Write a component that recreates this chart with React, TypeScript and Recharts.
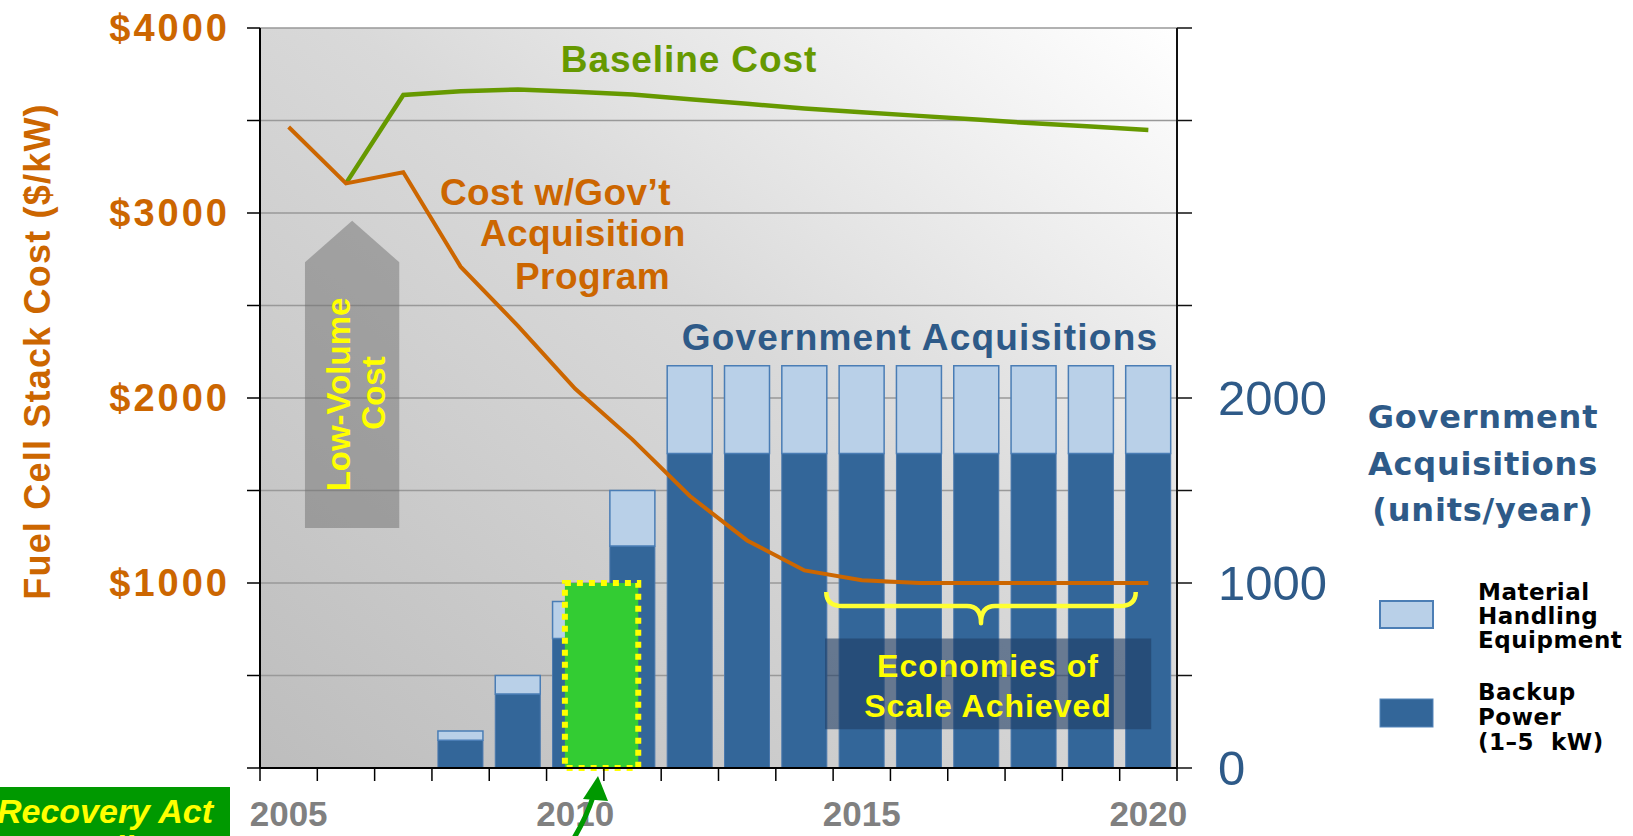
import React from 'react';
import { ComposedChart, Bar, Line, XAxis, YAxis, CartesianGrid, ReferenceArea } from 'recharts';

// ---------- data ----------
const years = [2005, 2006, 2007, 2008, 2009, 2010, 2011, 2012, 2013, 2014, 2015, 2016, 2017, 2018, 2019, 2020];
const costWithGovProgram = [3465, 3160, 3220, 2710, 2390, 2050, 1775, 1470, 1230, 1068, 1015, 1000, 1000, 1000, 1000, 1000];
const baselineCost = [null, 3160, 3638, 3658, 3668, 3655, 3640, 3615, 3590, 3565, 3545, 3525, 3505, 3485, 3467, 3449];
const backupPower = [null, null, null, 150, 400, 700, 1200, 1700, 1700, 1700, 1700, 1700, 1700, 1700, 1700, 1700];
const materialHandling = [null, null, null, 50, 100, 200, 300, 475, 475, 475, 475, 475, 475, 475, 475, 475];

const valueTicks = [0, 500, 1000, 1500, 2000, 2500, 3000, 3500, 4000];
const yearBoundaryTicks = [2004.5, 2005.5, 2006.5, 2007.5, 2008.5, 2009.5, 2010.5, 2011.5, 2012.5, 2013.5, 2014.5, 2015.5, 2016.5, 2017.5, 2018.5, 2019.5, 2020.5];
const yearLabelTicks = [2005, 2010, 2015, 2020];

const data = years.map((year, i) => ({
  year,
  cost: costWithGovProgram[i],
  baseline: baselineCost[i],
  backup: backupPower[i],
  mhe: materialHandling[i],
}));

const xTicks = [...yearBoundaryTicks, ...yearLabelTicks].sort((a, b) => a - b);

// ---------- styles ----------
const ARIAL = '"Liberation Sans", Arial, Helvetica, sans-serif';
const VERD = '"DejaVu Sans", Verdana, sans-serif';
const ORANGE = '#CC6600';
const GREEN = '#669900';
const STEEL = '#2E5A88';
const DARK_BLUE = '#336699';
const LIGHT_BLUE = '#B9D0E8';

const XTick = (props: any) => {
  const { x, y, payload } = props;
  const v = Number(payload.value);
  if (yearLabelTicks.includes(v)) {
    return (
      <text x={x} y={y + 58} textAnchor="middle" fill="#808080" fontSize={35} fontWeight="bold" fontFamily={ARIAL}>
        {v}
      </text>
    );
  }
  return <line x1={x} y1={y} x2={x} y2={y + 13} stroke="#000" strokeWidth={1.5} />;
};

const ArrowShape = (p: any) => {
  const { x, y, width, height } = p;
  const sh = width * 0.44;
  return (
    <path
      d={`M${x},${y + sh} L${x + width / 2},${y} L${x + width},${y + sh} L${x + width},${y + height} L${x},${y + height} Z`}
      fill="#707070"
      fillOpacity={0.5}
    />
  );
};

const BraceShape = (p: any) => {
  const { x, y, width, height } = p;
  const x0 = x;
  const x1 = x + width;
  const xc = x + width / 2;
  const yT = y;
  const yM = y + height * 0.45;
  const yB = y + height;
  const d = `M${x0},${yT} Q${x0},${yM} ${x0 + 16},${yM} L${xc - 14},${yM} Q${xc},${yM} ${xc},${yB} Q${xc},${yM} ${xc + 14},${yM} L${x1 - 16},${yM} Q${x1},${yM} ${x1},${yT}`;
  return <path d={d} fill="none" stroke="#FFFF33" strokeWidth={4.5} strokeLinejoin="round" />;
};

export default function App() {
  return (
    <div style={{ position: 'absolute', left: 0, top: 0, width: 1633, height: 836, background: '#fff', overflow: 'hidden' }}>
      <ComposedChart width={1633} height={836} data={data} margin={{ top: 28, right: 256, bottom: 8, left: 60 }}>
        <defs>
          <linearGradient id="plotBg" x1="0" y1="1" x2="1" y2="0">
            <stop offset="0%" stopColor="#BDBDBD" />
            <stop offset="55%" stopColor="#D9D9D9" />
            <stop offset="100%" stopColor="#FFFFFF" />
          </linearGradient>
        </defs>
        <CartesianGrid yAxisId="cost" vertical={false} stroke="#999999" strokeWidth={1.5} fill="url(#plotBg)" fillOpacity={1} />
        <XAxis
          dataKey="year"
          type="number"
          domain={[2004.5, 2020.5]}
          allowDataOverflow
          ticks={xTicks}
          interval={0}
          tickSize={0}
          tickMargin={0}
          tickLine={false}
          tick={<XTick />}
          height={60}
          axisLine={{ stroke: '#000', strokeWidth: 2 }}
        />
        <YAxis
          yAxisId="cost"
          domain={[0, 4000]}
          ticks={valueTicks}
          interval={0}
          width={200}
          tickSize={13}
          tickMargin={17}
          tickFormatter={(v: number) => (v > 0 && v % 1000 === 0 ? `$${v}` : '')}
          tick={{ fill: ORANGE, fontSize: 38, fontWeight: 'bold', fontFamily: ARIAL, letterSpacing: 3 }}
          axisLine={{ stroke: '#000', strokeWidth: 2 }}
          tickLine={{ stroke: '#000', strokeWidth: 1.5 }}
        />
        <YAxis
          yAxisId="units"
          orientation="right"
          domain={[0, 4000]}
          ticks={valueTicks}
          interval={0}
          width={200}
          tickSize={15}
          tickMargin={26}
          tickFormatter={(v: number) => (v <= 2000 && v % 1000 === 0 ? `${v}` : '')}
          tick={{ fill: STEEL, fontSize: 49, fontFamily: ARIAL }}
          axisLine={{ stroke: '#111', strokeWidth: 2 }}
          tickLine={{ stroke: '#111', strokeWidth: 1.5 }}
        />

        <ReferenceArea yAxisId="cost" x1={2005.285} x2={2006.93} y1={1297} y2={2958} shape={<ArrowShape />} ifOverflow="visible" />

        <Bar yAxisId="units" dataKey="backup" stackId="acq" barSize={45} fill={DARK_BLUE} stroke="#4A78AD" strokeWidth={1} isAnimationActive={false} />
        <Bar yAxisId="units" dataKey="mhe" stackId="acq" barSize={45} fill={LIGHT_BLUE} stroke="#4A7DB5" strokeWidth={1.5} isAnimationActive={false} />

        <ReferenceArea
          yAxisId="cost"
          x1={2009.82}
          x2={2011.1}
          y1={0}
          y2={1000}
          fill="#33CC33"
          fillOpacity={1}
          stroke="#FFFF00"
          strokeWidth={6}
          strokeDasharray="6 6"
          ifOverflow="visible"
          zIndex={350}
        />
        <ReferenceArea yAxisId="cost" x1={2014.36} x2={2020.05} y1={209} y2={700} fill="#1E3C64" fillOpacity={0.6} ifOverflow="visible" zIndex={350} />
        <ReferenceArea yAxisId="cost" x1={2014.38} x2={2019.78} y1={783} y2={952} shape={<BraceShape />} ifOverflow="visible" zIndex={350} />

        <Line yAxisId="cost" dataKey="baseline" type="linear" stroke={GREEN} strokeWidth={4.5} dot={false} activeDot={false} isAnimationActive={false} />
        <Line yAxisId="cost" dataKey="cost" type="linear" stroke={ORANGE} strokeWidth={4} dot={false} activeDot={false} isAnimationActive={false} />
      </ComposedChart>

      <svg width={1633} height={836} style={{ position: 'absolute', left: 0, top: 0, pointerEvents: 'none' }}>
        {/* left axis title */}
        <text transform="translate(50,351.5) rotate(-90)" textAnchor="middle" fontFamily={ARIAL} fontWeight="bold" fontSize={36} letterSpacing={1.2} fill={ORANGE}>
          Fuel Cell Stack Cost ($/kW)
        </text>

        {/* in-plot annotations */}
        <text x={689} y={72} textAnchor="middle" fontFamily={ARIAL} fontWeight="bold" fontSize={37} letterSpacing={0.9} fill={GREEN}>
          Baseline Cost
        </text>
        <g fontFamily={ARIAL} fontWeight="bold" fontSize={37} letterSpacing={0.4} fill={ORANGE}>
          <text x={440} y={205}>Cost w/Gov’t</text>
          <text x={480} y={246}>Acquisition</text>
          <text x={515} y={289}>Program</text>
        </g>
        <text x={920} y={350} textAnchor="middle" fontFamily={ARIAL} fontWeight="bold" fontSize={37} letterSpacing={1.2} fill={STEEL}>
          Government Acquisitions
        </text>
        <g fontFamily={ARIAL} fontWeight="bold" fontSize={33} fill="#FFFF00" textAnchor="middle">
          <text transform="translate(350,394.5) rotate(-90)">Low-Volume</text>
          <text transform="translate(385,393) rotate(-90)">Cost</text>
        </g>
        <g fontFamily={ARIAL} fontWeight="bold" fontSize={32} letterSpacing={1} fill="#FFFF00" textAnchor="middle">
          <text x={988} y={677}>Economies of</text>
          <text x={988} y={717}>Scale Achieved</text>
        </g>

        {/* recovery act label and arrow */}
        <rect x={0} y={787} width={230} height={60} fill="#009900" />
        <g fontFamily={ARIAL} fontWeight="bold" fontStyle="italic" fontSize={34} fill="#FFFF00">
          <text x={213} y={823} textAnchor="end">Recovery Act</text>
          <text x={108} y={859} textAnchor="middle">Funding</text>
        </g>
        <path d="M574,838 Q586,818 593,797" fill="none" stroke="#009900" strokeWidth={5} />
        <polygon points="598,776 608,801 583,799" fill="#009900" />

        {/* right side title and legend */}
        <g fontFamily={VERD} fontWeight="bold" fontSize={32} letterSpacing={0.8} fill={STEEL} textAnchor="middle">
          <text x={1483} y={428}>Government</text>
          <text x={1483} y={475}>Acquisitions</text>
          <text x={1483} y={521}>(units/year)</text>
        </g>
        <rect x={1380} y={601} width={53} height={27} fill={LIGHT_BLUE} stroke="#4C7EB5" strokeWidth={2} />
        <rect x={1380} y={699} width={53} height={28} fill={DARK_BLUE} stroke="#5585BA" strokeWidth={1} />
        <g fontFamily={VERD} fontWeight="bold" fontSize={23} letterSpacing={0.5} fill="#000">
          <text x={1478} y={600}>Material</text>
          <text x={1478} y={624}>Handling</text>
          <text x={1478} y={648}>Equipment</text>
          <text x={1478} y={700}>Backup</text>
          <text x={1478} y={725}>Power</text>
          <text x={1478} y={750} style={{ whiteSpace: 'pre' }}>{'(1–5  kW)'}</text>
        </g>
      </svg>
    </div>
  );
}
